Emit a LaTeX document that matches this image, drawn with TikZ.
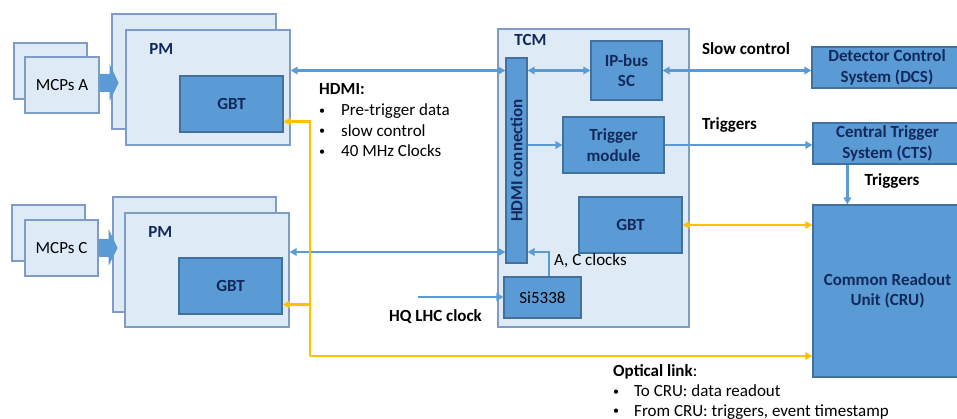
\documentclass[tikz,border=0pt]{standalone}
\usepackage{fontspec}
\setmainfont{Carlito}
\usetikzlibrary{arrows.meta,positioning,calc}
\definecolor{paleblue}{HTML}{DEEBF7}
\definecolor{paleedge}{HTML}{7F9CC6}
\definecolor{midblue}{HTML}{5B9BD5}
\definecolor{midedge}{HTML}{41719C}
\definecolor{navy}{HTML}{12295C}
\definecolor{linkyellow}{HTML}{FFC000}

\begin{document}
\begin{tikzpicture}[x=1pt,y=-1pt,
 every node/.style={font=\fontsize{17}{20.5}\selectfont,inner sep=0pt},
 sz/.style 2 args={minimum width=#1pt,minimum height=#2pt},
 pale/.style={draw=paleedge,line width=1.2pt,fill=paleblue},
 blk/.style={draw=midedge,line width=1.2pt,fill=midblue,text=navy,font=\fontsize{17}{20.5}\selectfont\bfseries,align=center},
 bold/.style={font=\fontsize{17}{20.5}\selectfont\bfseries},
 dot/.style={anchor=base,font=\fontsize{12}{12}\selectfont},
 arr/.style={-{Triangle[length=7pt,width=7.5pt]},draw=midblue,line width=2.4pt},
 barr/.style={{Triangle[length=7pt,width=7.5pt]}-{Triangle[length=7pt,width=7.5pt]},draw=midblue,line width=2.4pt},
 yarr/.style={-{Triangle[length=7pt,width=7.5pt]},draw=linkyellow,line width=2.4pt},
 ybarr/.style={{Triangle[length=7pt,width=7.5pt]}-{Triangle[length=7pt,width=7.5pt]},draw=linkyellow,line width=2.4pt}]
\useasboundingbox (0,0) rectangle (957,419);
\clip (0,0) rectangle (957,419);

% A side
\node[pale,sz={73}{56}] (mcpAback) at (50.5,71) {};
\node[pale,sz={164}{115}] (pmAback) at (194,71.5) {};
\node[pale,sz={74}{56}] (mcpA) at (62,85) {MCPs A};
\fill[midblue] ($(mcpA.east)+(0,-11)$) -- ++(10,0) -- ++(0,-10) -- ++(9,19) -- ++(-9,18) -- ++(0,-9) -- ++(-10,0) -- cycle;
\node[pale,sz={164}{115}] (pmA) at (208,87.5) {};
\node[bold,text=navy,anchor=base] at ($(pmA.north west)+(36,25)$) {PM};
\node[blk,sz={103}{56}] (gbtA) at (231.5,104) {GBT};

% C side
\node[pale,sz={73}{56}] (mcpCback) at (48.5,233) {};
\node[pale,sz={163}{115}] (pmCback) at (194.5,254.5) {};
\node[pale,sz={73}{56}] (mcpC) at (61.5,248) {MCPs C};
\fill[midblue] ($(mcpC.east)+(0,-9)$) -- ++(10,0) -- ++(0,-10) -- ++(9,19) -- ++(-9,18) -- ++(0,-9) -- ++(-10,0) -- cycle;
\node[pale,sz={164}{114}] (pmC) at (207,270) {};
\node[bold,text=navy,anchor=base] at ($(pmC.north west)+(36,24.7)$) {PM};
\node[blk,sz={103}{56}] (gbtC) at (230.5,286) {GBT};

% TCM
\node[pale,sz={191}{298}] (tcm) at (593.5,178) {};
\node[bold,text=navy,anchor=base] at ($(tcm.north west)+(33,17)$) {TCM};
\node[blk,sz={21}{205}] (hdmi) at (516.5,160.5) {};
\node[bold,text=navy,rotate=90] at (hdmi) {HDMI connection};
\node[blk,sz={71}{59}] (ipbus) at (626.5,70.5) {IP-bus\\SC};
\node[blk,sz={101}{56}] (trig) at (613.5,145) {Trigger\\module};
\node[blk,sz={103}{56}] (gbtT) at (630.5,225) {GBT};
\node[blk,sz={77}{41},text=black,font=\fontsize{17}{20.5}\selectfont] (si) at (542.5,297.5) {Si5338};

% outside systems
\node[blk,sz={150}{41}] (dcs) at (887,67.5) {Detector Control\\System (DCS)};
\node[blk,sz={149}{41}] (cts) at (887.5,143.5) {Central Trigger\\System (CTS)};
\node[blk,sz={149}{172}] (cru) at (887.5,291) {Common Readout\\Unit (CRU)};

% links
\coordinate (clk) at (549,252);
\coordinate (lhc) at (418,297);
\coordinate (opt) at (310,356);
\coordinate (gbtAin) at ($(gbtA.south east)+(0,-11)$);
\coordinate (gbtCin) at ($(gbtC.south east)+(0,-10)$);
\draw[barr] (pmA.east |- ipbus) -- (hdmi.west |- ipbus);
\draw[barr] (hdmi.east |- ipbus) -- (ipbus.west);
\draw[barr] (ipbus.east) -- (dcs.west |- ipbus);
\draw[arr] (hdmi.east |- trig) -- (trig.west);
\draw[arr] (trig.east) -- (cts.west |- trig);
\draw[arr] ($(cts.south west)+(35,0)$) -- ($(cru.north west)+(35,0)$);
\draw[barr] (pmC.east |- clk) -- (hdmi.west |- clk);
\draw[arr] (si.north -| clk) |- (hdmi.east |- clk);
\draw[arr] (lhc) -- (si.west |- lhc);
\draw[ybarr] (gbtT.east) -- (cru.west |- gbtT);
\draw[yarr] (opt) |- (gbtAin);
\draw[yarr] (opt |- gbtCin) -- (gbtCin);
\draw[yarr] (opt) -- (cru.west |- opt);

% labels
\node[bold,anchor=base] at (746,55) {Slow control};
\node[bold,anchor=base] at (729.5,129.3) {Triggers};
\node[bold,anchor=base] at (892,185.7) {Triggers};
\node[anchor=base west] at (554,265.7) {A, C clocks};
\node[bold,anchor=base] at (435.5,321.7) {HQ LHC clock};
\node[bold,anchor=base west] at (319,95) {HDMI:};
\foreach \y/\t in {115.6/Pre-trigger data,136.2/slow control,156.8/40 MHz Clocks}{
 \node[dot] at (322,\y-1.5) {\textbullet};
 \node[anchor=base west] at (341,\y) {\t};
}
\node[anchor=base west] at (613,376) {\textbf{Optical link}:};
\foreach \y/\t in {396.6/To CRU: data readout,416.2/{From CRU: triggers, event timestamp}}{
 \node[dot] at (616,\y-1.5) {\textbullet};
 \node[anchor=base west] at (634,\y) {\t};
}
\end{tikzpicture}
\end{document}
